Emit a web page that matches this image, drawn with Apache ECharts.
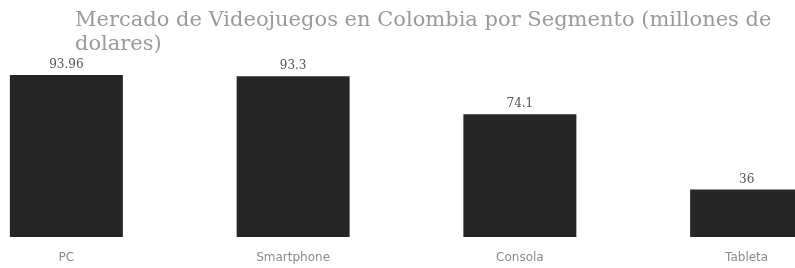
<!DOCTYPE html>
<html>
<head>
<meta charset="utf-8">
<script src="https://cdn.jsdelivr.net/npm/echarts@6/dist/echarts.min.js"></script>
<style>
  html, body { margin: 0; padding: 0; background: #fff; overflow: hidden; }
  /* la imagen original está recortada a los lados: el lienzo es más ancho y se desplaza */
  #charts { height: 268px; width: 907px; margin-left: -47px; }
</style>
</head>
<body>
<div id="charts"></div>
<script>
  // datos del gráfico
  var segmentos = ['PC', 'Smartphone', 'Consola', 'Tableta']
  var millones = [93.96, 93.3, 74.1, 36]
  var titulo = 'Mercado de Videojuegos en Colombia por Segmento (millones de\ndolares)'

  var myChart = echarts.init(document.getElementById('charts'))
  var option = {
    animation: false,
    title: {
      text: titulo,
      left: 117,
      top: 4,
      textStyle: {
        fontFamily: 'DejaVu Serif',
        fontSize: 21,
        fontWeight: 'normal',
        color: '#9a9a9a',
        lineHeight: 24
      }
    },
    grid: {
      left: 0,
      right: 0,
      top: 63,
      bottom: 31
    },
    xAxis: {
      type: 'category',
      data: segmentos,
      axisLine: { show: false },
      axisTick: { show: false },
      axisLabel: {
        margin: 15,
        fontFamily: 'DejaVu Sans',
        fontSize: 12,
        color: '#8a8a8a'
      }
    },
    yAxis: {
      type: 'value',
      min: 12,
      max: 100,
      show: false,
      splitLine: { show: false }
    },
    series: [
      {
        type: 'bar',
        data: millones,
        barWidth: 113,
        itemStyle: { color: '#262626' },
        label: {
          show: true,
          position: 'top',
          distance: 4,
          fontFamily: 'DejaVu Serif',
          fontSize: 12,
          color: '#555'
        }
      }
    ]
  }
  myChart.setOption(option)
</script>
</body>
</html>
